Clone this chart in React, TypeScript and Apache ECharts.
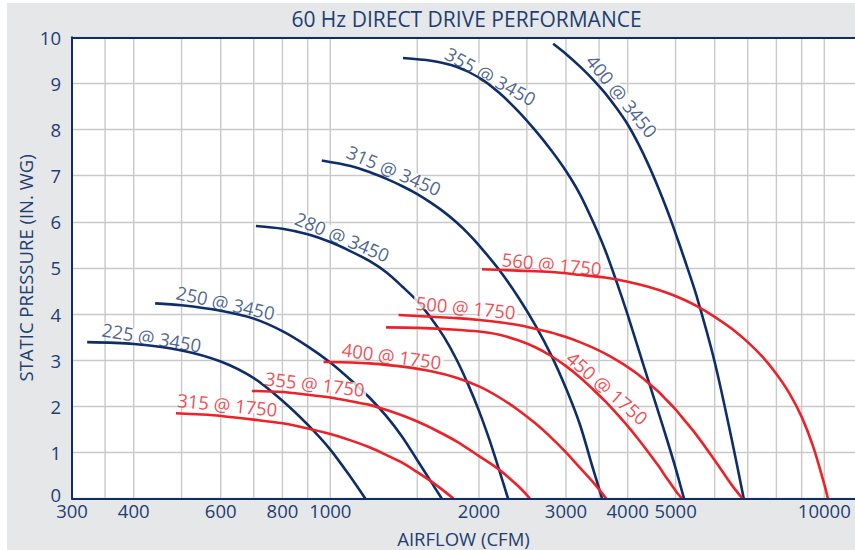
import React, { useEffect, useRef } from 'react';
import * as echarts from 'echarts';

// ---- axis ticks ----
const xGridValues = [350, 400, 500, 600, 700, 800, 900, 1000, 1500, 2000, 2500, 3000, 3500, 4000, 5000, 6000, 7000, 8000, 9000, 10000];
const xTickLabels = [300, 400, 600, 800, 1000, 2000, 3000, 4000, 5000, 10000];
const xMin = 300;
const xMax = 11540;
const yMin = 0;
const yMax = 10;
const yInterval = 1;

// ---- fan curves: [airflow CFM, static pressure in. WG] ----
const fan225_3450 = [[322, 3.39], [400, 3.35], [500, 3.21], [600, 2.97], [700, 2.61], [800, 2.12], [900, 1.60], [1000, 1.06], [1100, 0.46], [1177, 0]];
const fan250_3450 = [[442, 4.23], [500, 4.19], [600, 4.07], [700, 3.90], [800, 3.63], [900, 3.30], [1000, 2.95], [1100, 2.57], [1200, 2.19], [1300, 1.78], [1400, 1.33], [1500, 0.83], [1600, 0.36], [1681, 0]];
const fan280_3450 = [[707, 5.91], [800, 5.85], [900, 5.73], [1000, 5.56], [1100, 5.36], [1200, 5.15], [1300, 4.90], [1400, 4.59], [1500, 4.28], [1600, 3.91], [1700, 3.50], [1800, 3.02], [1900, 2.48], [2000, 1.90], [2100, 1.27], [2200, 0.60], [2290, 0]];
const fan315_3450 = [[961, 7.33], [1100, 7.21], [1200, 7.08], [1300, 6.93], [1400, 6.77], [1500, 6.60], [1600, 6.41], [1700, 6.21], [1800, 5.99], [1900, 5.75], [2000, 5.49], [2200, 4.95], [2400, 4.37], [2600, 3.76], [2800, 3.11], [3000, 2.39], [3200, 1.61], [3400, 0.66], [3550, 0]];
const fan355_3450 = [[1403, 9.55], [1600, 9.49], [1800, 9.36], [2000, 9.13], [2200, 8.79], [2400, 8.40], [2600, 7.98], [2800, 7.55], [3000, 7.10], [3200, 6.60], [3400, 6.01], [3600, 5.39], [3800, 4.69], [4000, 3.98], [4200, 3.26], [4400, 2.57], [4600, 1.92], [4800, 1.29], [5000, 0.66], [5200, 0]];
const fan400_3450 = [[2826, 9.86], [3000, 9.64], [3200, 9.37], [3400, 9.09], [3600, 8.79], [3800, 8.46], [4000, 8.11], [4200, 7.70], [4400, 7.25], [4600, 6.77], [4800, 6.27], [5000, 5.75], [5200, 5.22], [5500, 4.43], [6000, 2.96], [6500, 1.27], [6870, 0]];

const fan315_1750 = [[487, 1.85], [550, 1.82], [600, 1.79], [700, 1.71], [800, 1.63], [900, 1.52], [1000, 1.40], [1100, 1.26], [1200, 1.11], [1300, 0.94], [1400, 0.77], [1500, 0.57], [1600, 0.37], [1700, 0.16], [1775, 0]];
const fan355_1750 = [[694, 2.33], [800, 2.31], [900, 2.25], [1000, 2.19], [1100, 2.11], [1200, 2.03], [1300, 1.92], [1400, 1.80], [1500, 1.67], [1600, 1.53], [1800, 1.24], [2000, 0.92], [2200, 0.62], [2400, 0.27], [2536, 0]];
const fan400_1750 = [[969, 2.96], [1100, 2.95], [1200, 2.93], [1400, 2.86], [1600, 2.76], [1800, 2.62], [2000, 2.43], [2200, 2.19], [2400, 1.92], [2600, 1.63], [2800, 1.32], [3000, 1.00], [3200, 0.67], [3400, 0.36], [3620, 0]];
const fan450_1750 = [[1297, 3.71], [1500, 3.70], [1800, 3.66], [2000, 3.62], [2200, 3.55], [2400, 3.43], [2600, 3.28], [2800, 3.09], [3000, 2.87], [3200, 2.63], [3400, 2.37], [3600, 2.11], [3800, 1.84], [4000, 1.57], [4200, 1.29], [4400, 1.01], [4600, 0.73], [4800, 0.44], [5000, 0.17], [5150, 0]];
const fan500_1750 = [[1375, 3.98], [1600, 3.94], [1800, 3.91], [2000, 3.87], [2200, 3.82], [2400, 3.76], [2600, 3.68], [2800, 3.60], [3000, 3.50], [3200, 3.39], [3400, 3.27], [3600, 3.14], [3800, 3.00], [4000, 2.85], [4200, 2.69], [4400, 2.51], [4600, 2.33], [4800, 2.13], [5000, 1.93], [5200, 1.71], [5500, 1.39], [6000, 0.83], [6500, 0.29], [6830, 0]];
const fan560_1750 = [[2028, 4.97], [2400, 4.94], [2800, 4.91], [3200, 4.85], [3600, 4.79], [4000, 4.70], [4400, 4.59], [4800, 4.46], [5200, 4.31], [5500, 4.18], [6000, 3.94], [6500, 3.68], [7000, 3.39], [7500, 3.07], [8000, 2.70], [8500, 2.28], [9000, 1.77], [9500, 1.12], [10000, 0.31], [10170, 0]];

const curveNames = ['225 @ 3450', '250 @ 3450', '280 @ 3450', '315 @ 3450', '355 @ 3450', '400 @ 3450',
  '315 @ 1750', '355 @ 1750', '400 @ 1750', '450 @ 1750', '500 @ 1750', '560 @ 1750'];
const curveData = [fan225_3450, fan250_3450, fan280_3450, fan315_3450, fan355_3450, fan400_3450,
  fan315_1750, fan355_1750, fan400_1750, fan450_1750, fan500_1750, fan560_1750];
const curveRpm = [3450, 3450, 3450, 3450, 3450, 3450, 1750, 1750, 1750, 1750, 1750, 1750];

// ---- curve label anchors (data coords) ----
const labelAnchors = [[435, 3.50], [614, 4.25], [1058, 5.68], [1346, 7.12], [2112, 9.16], [3897, 8.73],
  [619, 2.04], [931, 2.49], [1331, 3.10], [3640, 2.40], [1880, 4.15], [2807, 5.09]];
const labelAngles = [-9.5, -12.4, -22.8, -23.2, -29, -51, -5.6, -6.7, -7.6, -41, -5.6, -5.7];

const NAVY_TEXT = '#1d3e74';
const NAVY = '#0e2e6a';
const RED = '#ed2128';
const BG = '#e6e7e8';
const GRID = '#c9c9c9';
const FONT = 'Open Sans';

export default function App() {
  const ref = useRef<HTMLDivElement>(null);

  useEffect(() => {
    if (!ref.current) return;
    const chart = echarts.init(ref.current, null, { renderer: 'svg' });

    // vertical grid lines: one two-point line per grid value on the log x axis
    const gridSeries = xGridValues.map((v) => ({
      type: 'line',
      name: 'grid ' + v,
      silent: true,
      z: 3,
      data: [[v, yMin], [v, yMax]],
      showSymbol: false,
      symbol: 'none',
      lineStyle: { color: GRID, width: 1.4 },
    }));

    const lineSeries = curveData.map((d, i) => ({
      type: 'line',
      name: curveNames[i],
      data: d,
      showSymbol: false,
      symbol: 'none',
      smooth: 0.3,
      silent: true,
      z: 4,
      lineStyle: { color: curveRpm[i] === 3450 ? NAVY : RED, width: 2.6 },
    }));

    const labelSeries = {
      type: 'scatter',
      name: 'labels',
      silent: true,
      z: 10,
      symbolSize: 0.1,
      itemStyle: { color: 'transparent' },
      data: curveNames.map((n, i) => ({
        name: n,
        value: labelAnchors[i],
        label: {
          rotate: labelAngles[i],
          color: curveRpm[i] === 3450 ? NAVY_TEXT : RED,
        },
      })),
      label: {
        show: true,
        position: 'inside',
        formatter: '{b}',
        fontSize: 18.5,
        fontFamily: FONT,
        backgroundColor: '#ffffff',
        padding: [0, 2],
        lineHeight: 12,
        align: 'center',
        verticalAlign: 'middle',
      },
    };

    chart.setOption({
      animation: false,
      backgroundColor: BG,
      textStyle: { fontFamily: FONT },
      graphic: [
        {
          type: 'text',
          x: 459.5,
          y: 15.8,
          style: {
            text: '60 Hz DIRECT DRIVE PERFORMANCE',
            fill: NAVY_TEXT,
            fontSize: 21,
            fontFamily: FONT,
            align: 'center',
            verticalAlign: 'middle',
          },
        },
      ],
      grid: {
        left: 65, right: 0, top: 34.3, bottom: 51.5,
        show: true, backgroundColor: '#ffffff', borderWidth: 0,
        outerBoundsMode: 'none', containLabel: false,
      },
      xAxis: [
        {
          type: 'log',
          logBase: 10,
          min: xMin,
          max: xMax,
          name: 'AIRFLOW (CFM)',
          nameLocation: 'middle',
          nameGap: 30,
          nameMoveOverlap: false,
          nameTextStyle: { color: NAVY_TEXT, fontSize: 18.5, fontFamily: FONT },
          axisLine: { show: true, lineStyle: { color: NAVY, width: 2 } },
          axisTick: { show: false },
          axisLabel: {
            customValues: xTickLabels,
            formatter: (v: number) => String(Math.round(v)),
            color: NAVY_TEXT,
            fontSize: 18.5,
            fontFamily: FONT,
            lineHeight: 14,
            margin: 5,
          },
          splitLine: { show: false },
          splitArea: { show: false },
          minorTick: { show: false },
          minorSplitLine: { show: false },
          z: 5,
        },
        {
          type: 'log',
          logBase: 10,
          position: 'top',
          min: xMin,
          max: xMax,
          axisLine: { show: true, lineStyle: { color: NAVY, width: 2 } },
          axisTick: { show: false },
          axisLabel: { show: false },
          splitLine: { show: false },
          splitArea: { show: false },
          z: 5,
        },
      ],
      yAxis: {
        type: 'value',
        min: yMin,
        max: yMax,
        interval: yInterval,
        name: 'STATIC PRESSURE (IN. WG)',
        nameLocation: 'middle',
        nameGap: 37,
        nameMoveOverlap: false,
        nameTextStyle: { color: NAVY_TEXT, fontSize: 18.5, fontFamily: FONT },
        axisLine: { show: true, lineStyle: { color: NAVY, width: 2 } },
        axisTick: { show: false },
        axisLabel: {
          color: NAVY_TEXT,
          fontSize: 18.5,
          fontFamily: FONT,
          margin: 11,
          lineHeight: 14,
          formatter: (v: number) => (v === 0 ? '{z|0}' : String(v)),
          rich: { z: { color: NAVY_TEXT, fontSize: 18.5, fontFamily: FONT, lineHeight: 14, padding: [0, 0, 9, 0] } },
        },
        splitLine: { show: true, lineStyle: { color: GRID, width: 1.4 } },
        splitArea: { show: false },
      },
      series: [...gridSeries, ...lineSeries, labelSeries],
    });

    return () => chart.dispose();
  }, []);

  return (
    <div
      ref={ref}
      style={{ position: 'absolute', left: 7, top: 3, width: 848, height: 547 }}
    />
  );
}
